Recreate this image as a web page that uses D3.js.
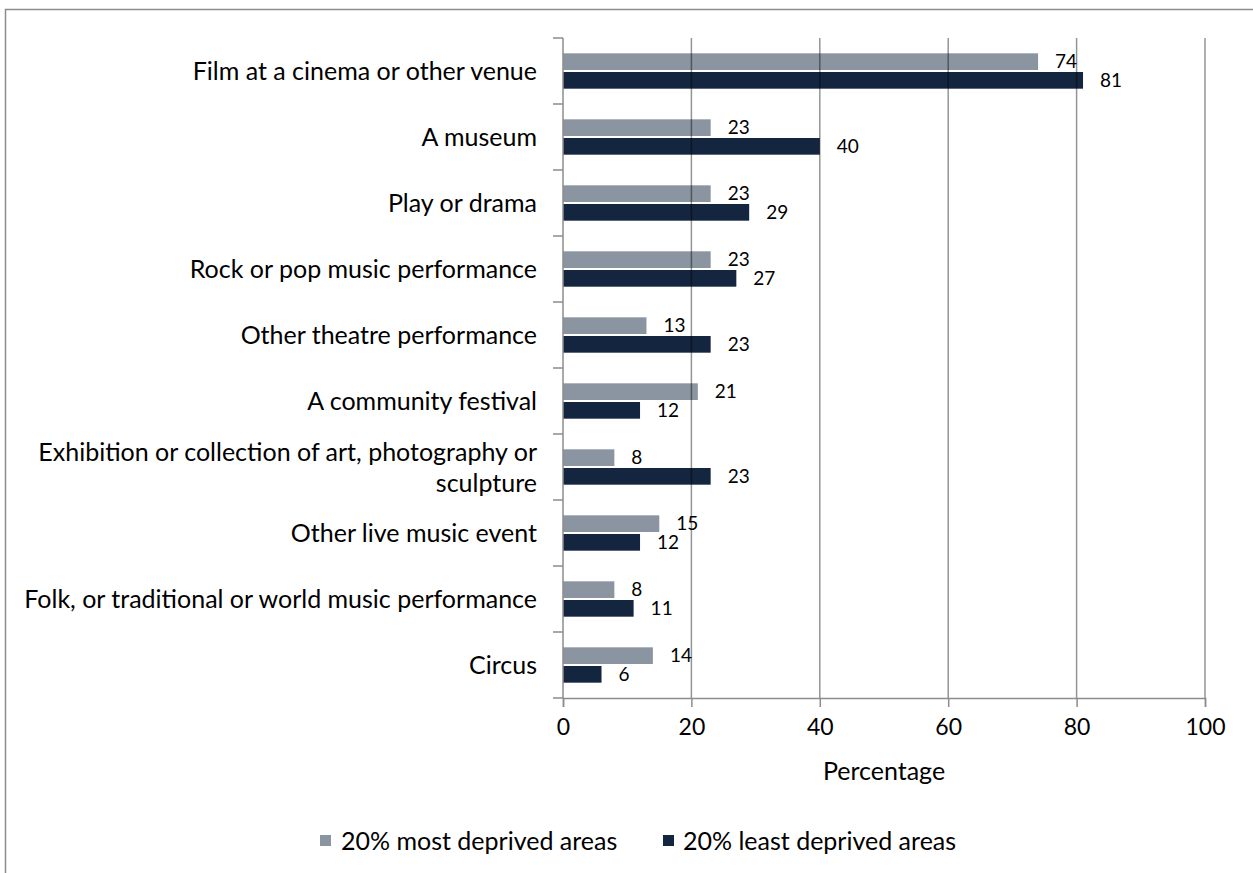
<!DOCTYPE html>
<html>
<head>
<meta charset="utf-8">
<script src="https://cdn.jsdelivr.net/npm/d3@7"></script>
<style>
  html, body { margin: 0; padding: 0; background: #fff; }
  svg { display: block; }
  text { font-family: Lato, "Open Sans", sans-serif; fill: #000; }
</style>
</head>
<body>
<svg id="chart" width="1253" height="873"></svg>
<script>
// Cultural activities attended, by area deprivation (percentage)
const categories = [
  "Film at a cinema or other venue",
  "A museum",
  "Play or drama",
  "Rock or pop music performance",
  "Other theatre performance",
  "A community festival",
  "Exhibition or collection of art, photography or sculpture",
  "Other live music event",
  "Folk, or traditional or world music performance",
  "Circus"
];
const categoryLines = [
  ["Film at a cinema or other venue"],
  ["A museum"],
  ["Play or drama"],
  ["Rock or pop music performance"],
  ["Other theatre performance"],
  ["A community festival"],
  ["Exhibition or collection of art, photography or", "sculpture"],
  ["Other live music event"],
  ["Folk, or traditional or world music performance"],
  ["Circus"]
];
const seriesNames = ["20% most deprived areas", "20% least deprived areas"];
const mostDeprived  = [74, 23, 23, 23, 13, 21, 8, 15, 8, 14];
const leastDeprived = [81, 40, 29, 27, 23, 12, 23, 12, 11, 6];
const xTicks = [0, 20, 40, 60, 80, 100];
const colors = ["#8A95A1", "#14253F"];

const svg = d3.select("#chart");
const W = 1253, H = 873;

// outer chart frame
svg.append("rect")
  .attr("x", 5.5).attr("y", 9.5)
  .attr("width", W + 20).attr("height", H + 20)
  .attr("fill", "none").attr("stroke", "#8c8c8c").attr("stroke-width", 1.5);

const plot = { left: 563, right: 1205, top: 38, bottom: 698 };

const x = d3.scaleLinear().domain([0, 100]).range([plot.left, plot.right]);
const y = d3.scaleBand().domain(categories).range([plot.top, plot.bottom]).padding(0);
const ySub = d3.scaleBand().domain(seriesNames).range([0, y.bandwidth()])
  .paddingInner(0.107).paddingOuter(0.82);

const rows = categories.map((c, i) => ({
  cat: c, lines: categoryLines[i],
  vals: [mostDeprived[i], leastDeprived[i]]
}));

// bars
const g = svg.append("g");
rows.forEach(r => {
  r.vals.forEach((v, k) => {
    g.append("rect")
      .attr("x", x(0))
      .attr("y", y(r.cat) + ySub(seriesNames[k]))
      .attr("width", x(v) - x(0))
      .attr("height", ySub.bandwidth())
      .attr("fill", colors[k]);
  });
});

// vertical gridlines (drawn over bars, semi-transparent)
svg.append("g").selectAll("line")
  .data(xTicks.filter(t => t > 0))
  .join("line")
  .attr("x1", d => x(d)).attr("x2", d => x(d))
  .attr("y1", plot.top).attr("y2", plot.bottom)
  .attr("stroke", "#000").attr("stroke-opacity", 0.42).attr("stroke-width", 1.5);

// value labels
rows.forEach(r => {
  r.vals.forEach((v, k) => {
    svg.append("text")
      .attr("x", x(v) + 17)
      .attr("y", y(r.cat) + ySub(seriesNames[k]) + ySub.bandwidth() / 2)
      .attr("dy", "0.36em")
      .attr("font-size", 19)
      .text(v);
  });
});

// y axis: line with outward ticks at band boundaries
const yAxisG = svg.append("g");
yAxisG.append("line")
  .attr("x1", plot.left).attr("x2", plot.left)
  .attr("y1", plot.top).attr("y2", plot.bottom)
  .attr("stroke", "#8c8c8c").attr("stroke-width", 1.5);
const bounds = categories.map(c => y(c)).concat([plot.bottom]);
yAxisG.selectAll("line.tick").data(bounds).join("line")
  .attr("class", "tick")
  .attr("x1", plot.left - 10).attr("x2", plot.left)
  .attr("y1", d => d).attr("y2", d => d)
  .attr("stroke", "#8c8c8c").attr("stroke-width", 1.5);

// category labels
rows.forEach(r => {
  const cy = y(r.cat) + y.bandwidth() / 2;
  const lh = 31;
  const t = svg.append("text")
    .attr("text-anchor", "end")
    .attr("font-size", 25);
  r.lines.forEach((ln, j) => {
    t.append("tspan")
      .attr("x", 537)
      .attr("y", cy + (j - (r.lines.length - 1) / 2) * lh)
      .attr("dy", "0.36em")
      .text(ln);
  });
});

// x axis
const xAxis = d3.axisBottom(x).tickValues(xTicks).tickSize(9).tickPadding(12);
const xg = svg.append("g").attr("transform", `translate(0,${plot.bottom})`).call(xAxis);
xg.select(".domain").attr("stroke", "#8c8c8c").attr("stroke-width", 1.5);
xg.selectAll(".tick line").attr("stroke", "#8c8c8c").attr("stroke-width", 1.5);
xg.selectAll(".tick text")
  .attr("font-family", "Lato, 'Open Sans', sans-serif")
  .attr("font-size", 23).attr("fill", "#000");

// axis title
svg.append("text")
  .attr("x", 884).attr("y", 771).attr("dy", "0.36em")
  .attr("text-anchor", "middle").attr("font-size", 25)
  .text("Percentage");

// legend
const legendItems = [
  { name: seriesNames[0], color: colors[0], sx: 320, tx: 341 },
  { name: seriesNames[1], color: colors[1], sx: 663, tx: 683 }
];
const lg = svg.append("g");
legendItems.forEach(it => {
  lg.append("rect")
    .attr("x", it.sx).attr("y", 835)
    .attr("width", 11).attr("height", 11)
    .attr("fill", it.color);
  lg.append("text")
    .attr("x", it.tx).attr("y", 840.5).attr("dy", "0.36em")
    .attr("font-size", 25)
    .text(it.name);
});
</script>
</body>
</html>
